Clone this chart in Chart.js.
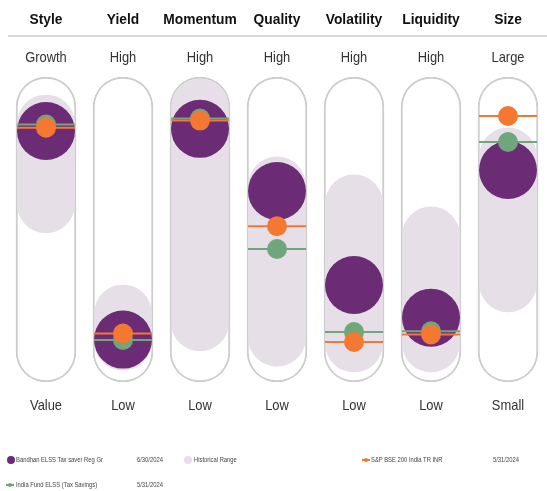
<!DOCTYPE html>
<html>
<head>
<meta charset="utf-8">
<script src="https://cdn.jsdelivr.net/npm/chart.js@4/dist/chart.umd.min.js"></script>
<style>
  html, body { margin: 0; padding: 0; background: #fff; }
  #wrap { position: relative; width: 547px; height: 491px; overflow: hidden; }
  #c { position: absolute; left: 0; top: 0; }
  .lg { position: absolute; font-family: "Liberation Sans", Arial, sans-serif; font-size: 8px; color: #444; white-space: nowrap; line-height: 10px; transform: scaleX(0.73); transform-origin: 0 0; }
  .mk { position: absolute; }
</style>
</head>
<body>
<div id="wrap">
  <canvas id="c" width="547" height="491"></canvas>
  <!-- legend -->
  <div class="mk" style="left:7px;top:456px;width:8px;height:8px;border-radius:50%;background:#6b2c75;"></div>
  <div class="lg" style="left:16px;top:455px;">Bandhan ELSS Tax saver Reg Gr</div>
  <div class="lg" style="left:137px;top:455px;">6/30/2024</div>
  <div class="mk" style="left:184px;top:456px;width:8px;height:8px;border-radius:50%;background:#e7dfe8;"></div>
  <div class="lg" style="left:194px;top:455px;">Historical Range</div>
  <div class="mk" style="left:362px;top:459px;width:8px;height:2px;background:#f47732;"></div>
  <div class="mk" style="left:364px;top:458px;width:4px;height:4px;border-radius:50%;background:#f47732;"></div>
  <div class="lg" style="left:371px;top:455px;">S&amp;P BSE 200 India TR INR</div>
  <div class="lg" style="left:493px;top:455px;">5/31/2024</div>
  <div class="mk" style="left:6px;top:484px;width:8px;height:2px;background:#6fa67c;"></div>
  <div class="mk" style="left:8px;top:483px;width:4px;height:4px;border-radius:50%;background:#6fa67c;"></div>
  <div class="lg" style="left:16px;top:480px;">India Fund ELSS (Tax Savings)</div>
  <div class="lg" style="left:137px;top:480px;">5/31/2024</div>
</div>
<script>
const categories = ['Style', 'Yield', 'Momentum', 'Quality', 'Volatility', 'Liquidity', 'Size'];
const highLabels = ['Growth', 'High', 'High', 'High', 'High', 'High', 'Large'];
const lowLabels = ['Value', 'Low', 'Low', 'Low', 'Low', 'Low', 'Small'];
const rangeLow = [48.9, 3.9, 10.2, 5.2, 3.3, 3.3, 23.0];
const rangeHigh = [94.1, 31.8, 99.3, 73.8, 67.9, 57.4, 83.3];
const fundValues = [82.3, 13.9, 83.0, 62.6, 31.8, 21.1, 69.5];
const indexValues = [83.4, 15.9, 85.7, 51.1, 13.1, 15.6, 87.2];
const categoryValues = [84.4, 13.8, 86.4, 43.6, 16.4, 16.6, 78.7];
const scaleMin = 0;
const scaleMax = 100;

const PURPLE = '#6b2c75';
const RANGE = '#e7dfe8';
const ORANGE = '#f47732';
const GREEN = '#6fa67c';
const FONT = '"Liberation Sans", Arial, sans-serif';

function squeezedText(ctx, text, x, y, sx) {
  ctx.save();
  ctx.translate(x, y);
  ctx.scale(sx, 1);
  ctx.fillText(text, 0, 0);
  ctx.restore();
}

const labelPlugin = {
  id: 'labels',
  afterDraw(chart) {
    const ctx = chart.ctx;
    const x = chart.scales.x;
    ctx.save();
    ctx.textAlign = 'center';
    ctx.textBaseline = 'middle';
    ctx.strokeStyle = '#d9d9d9';
    ctx.lineWidth = 2;
    ctx.beginPath();
    ctx.moveTo(8, 36);
    ctx.lineTo(547, 36);
    ctx.stroke();
    categories.forEach((c, i) => {
      const px = x.getPixelForValue(i);
      ctx.fillStyle = '#111';
      ctx.font = 'bold 15px ' + FONT;
      squeezedText(ctx, c, px, 20, 0.92);
      ctx.fillStyle = '#333';
      ctx.font = '15px ' + FONT;
      squeezedText(ctx, highLabels[i], px, 58, 0.86);
      squeezedText(ctx, lowLabels[i], px, 406, 0.86);
    });
    ctx.restore();
  }
};

new Chart(document.getElementById('c'), {
  data: {
    labels: categories,
    datasets: [
      { type: 'line', label: 'index dot', data: indexValues, showLine: false, order: 0,
        pointRadius: 10, pointBackgroundColor: ORANGE, pointBorderWidth: 0, pointStyle: 'circle' },
      { type: 'line', label: 'index line', data: indexValues, showLine: false, order: 1,
        pointRadius: 29, pointStyle: 'line', pointBorderColor: ORANGE, pointBorderWidth: 2 },
      { type: 'line', label: 'category dot', data: categoryValues, showLine: false, order: 2,
        pointRadius: 10, pointBackgroundColor: GREEN, pointBorderWidth: 0, pointStyle: 'circle' },
      { type: 'line', label: 'category line', data: categoryValues, showLine: false, order: 3,
        pointRadius: 29, pointStyle: 'line', pointBorderColor: GREEN, pointBorderWidth: 2 },
      { type: 'line', label: 'fund', data: fundValues, showLine: false, order: 4,
        pointRadius: 29, pointBackgroundColor: PURPLE, pointBorderWidth: 0, pointStyle: 'circle' },
      { type: 'bar', label: 'range', data: rangeLow.map((v, i) => [v, rangeHigh[i]]), order: 5,
        grouped: false, barThickness: 57, backgroundColor: RANGE, borderWidth: 0,
        borderRadius: 29, borderSkipped: false },
      { type: 'bar', label: 'capsule', data: categories.map(() => [scaleMin, scaleMax]), order: 6,
        grouped: false, barThickness: 60, backgroundColor: '#ffffff', borderColor: '#cdcdcd', borderWidth: 2,
        borderRadius: 30, borderSkipped: false }
    ]
  },
  options: {
    responsive: false,
    animation: false,
    events: [],
    layout: { autoPadding: false, padding: { top: 77, bottom: 109, left: 7.5, right: 0.5 } },
    plugins: { legend: { display: false }, tooltip: { enabled: false } },
    scales: {
      x: { type: 'category', display: false, offset: true },
      y: { type: 'linear', display: false, min: scaleMin, max: scaleMax }
    }
  },
  plugins: [labelPlugin]
});
</script>
</body>
</html>
